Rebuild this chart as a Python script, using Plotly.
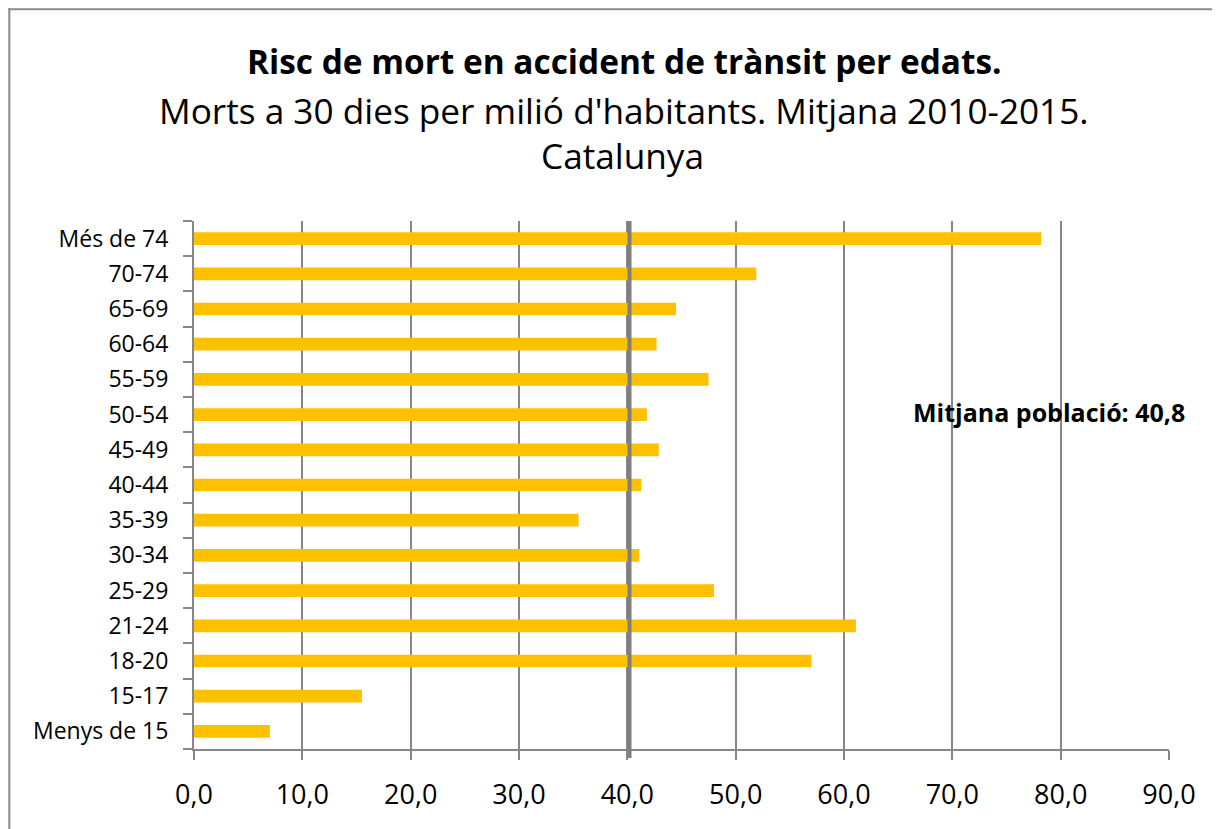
import plotly.graph_objects as go

categories = ["Menys de 15", "15-17", "18-20", "21-24", "25-29", "30-34", "35-39",
              "40-44", "45-49", "50-54", "55-59", "60-64", "65-69", "70-74", "Més de 74"]
values = [7.0, 15.5, 57.0, 61.1, 48.0, 41.1, 35.5, 41.3, 42.9, 41.8, 47.5, 42.7, 44.5, 51.9, 78.2]
mean_line_x = 40.2
mean_label = "Mitjana població: 40,8"
x_ticks = [0, 10, 20, 30, 40, 50, 60, 70, 80, 90]

FONT = "Open Sans"
OFF = 8  # page body margin
W, H = 1220 - OFF, 829 - OFF
L, R, T, B = 194 - OFF, 1169 - OFF, 221 - OFF, 749 - OFF

def px(x):
    return (x - OFF - L) / (R - L)

def py(y):
    return (B - (y - OFF)) / (B - T)

fig = go.Figure()
fig.add_trace(go.Bar(
    y=categories, x=values, orientation="h",
    marker=dict(color="#FFC000", line=dict(width=0)),
    width=0.36, hoverinfo="x+y",
))

frame = dict(color="#8a8a8a", width=2)

fig.update_layout(
    width=W, height=H,
    margin=dict(l=L, r=W - R, t=T, b=H - B, pad=0),
    paper_bgcolor="white", plot_bgcolor="white",
    separators=",.",
    showlegend=False,
    font=dict(family=FONT, color="black"),
    xaxis=dict(
        range=[0, 90], tickvals=x_ticks, tickformat=".1f",
        showgrid=True, gridcolor="#878787", gridwidth=2,
        showline=True, linecolor="#878787", linewidth=2,
        ticks="outside", ticklen=9, tickwidth=2, tickcolor="#878787",
        ticklabelstandoff=12,
        tickfont=dict(size=27, family=FONT), zeroline=False,
        fixedrange=True,
    ),
    yaxis=dict(
        categoryorder="array", categoryarray=categories,
        showgrid=False, showline=True, linecolor="#878787", linewidth=2,
        ticks="outside", ticklen=9, tickwidth=2, tickcolor="#878787",
        tickson="boundaries", ticklabelstandoff=19,
        tickfont=dict(size=23, family=FONT), fixedrange=True,
    ),
    shapes=[
        dict(type="line", xref="x", yref="paper", x0=mean_line_x, x1=mean_line_x,
             y0=py(758), y1=1, line=dict(color="#7f7f7f", width=4)),
        dict(type="line", xref="paper", yref="paper",
             x0=px(9.3), x1=px(9.3), y0=py(8.3), y1=py(840), line=frame, layer="above"),
        dict(type="line", xref="paper", yref="paper",
             x0=px(8.3), x1=px(1230), y0=py(9.3), y1=py(9.3), line=frame, layer="above"),
    ],
    annotations=[
        dict(text="<b>Risc de mort en accident de trànsit per edats.</b>", xref="paper", yref="paper",
             x=px(624), y=py(61), showarrow=False, xanchor="center", yanchor="middle",
             font=dict(size=33.4, family=FONT)),
        dict(text="Morts a 30 dies per milió d'habitants. Mitjana 2010-2015.", xref="paper", yref="paper",
             x=px(624), y=py(110), showarrow=False, xanchor="center", yanchor="middle",
             font=dict(size=35.2, family=FONT)),
        dict(text="Catalunya", xref="paper", yref="paper",
             x=px(622), y=py(155), showarrow=False, xanchor="center", yanchor="middle",
             font=dict(size=35.2, family=FONT)),
        dict(text="<b>" + mean_label + "</b>", xref="paper", yref="paper",
             x=px(911), y=py(412), showarrow=False, xanchor="left", yanchor="middle",
             font=dict(size=25, family=FONT)),
    ],
)

fig.write_html("out.html")
